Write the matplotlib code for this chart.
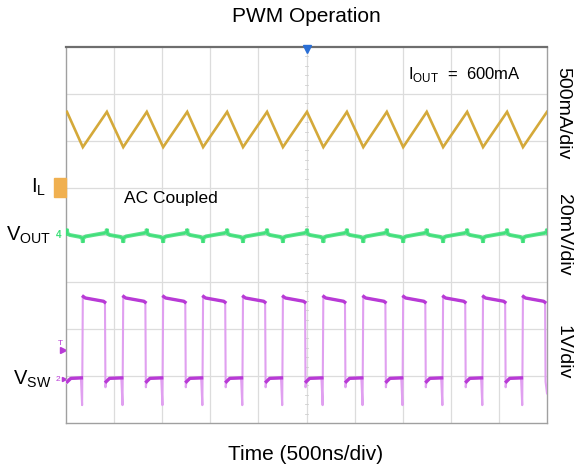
import matplotlib.pyplot as plt
import numpy as np

plt.rcParams['font.family'] = ['Liberation Sans', 'DejaVu Sans']

# screen is 10 x 8 divisions; time axis 500 ns/div
il_peak_t = [0.02, 0.85, 1.68, 2.52, 3.35, 4.18, 5.01, 5.84, 6.67, 7.50, 8.34, 9.17, 10.0]
il_trough_t = [0.35, 1.19, 2.02, 2.85, 3.68, 4.51, 5.35, 6.18, 7.01, 7.84, 8.67, 9.50]
il_peak_div = 6.62
il_trough_div = 5.87

vout_center_div = 4.0
vout_peak_div = 0.13
vout_dip_div = -0.16

sw_rise_t = [0.35, 1.19, 2.02, 2.85, 3.68, 4.51, 5.35, 6.18, 7.01, 7.84, 8.67, 9.50]
sw_fall_t = [0.81, 1.65, 2.48, 3.31, 4.14, 4.97, 5.80, 6.64, 7.47, 8.30, 9.13, 9.96]
sw_high_div = 2.66
sw_high_end_div = 2.57
sw_low_div = 0.93
sw_spike_div = 0.38

gold = '#d4a93a'
green = '#3ddf78'
violet = '#b83ad6'
violet_light = '#e0a0f0'

fig = plt.figure(figsize=(5.78, 4.74), dpi=100)
ax = fig.add_axes([66 / 578, 51 / 474, 481 / 578, 376 / 474])
ax.set_xlim(0, 10)
ax.set_ylim(0, 8)

# graticule
for gx in range(1, 10):
    ax.axvline(gx, color='#dcdcdc', lw=0.9, zorder=0)
for gy in range(1, 8):
    ax.axhline(gy, color='#dcdcdc', lw=0.9, zorder=0)
for s in np.arange(0.2, 8, 0.2):
    ax.plot([4.97, 5.03], [s, s], color='#d0d0d0', lw=0.6, zorder=0)
for name, sp in ax.spines.items():
    sp.set_color('#a0a0a0')
    sp.set_linewidth(1.0)
ax.spines['top'].set_color('#6e6e6e')
ax.spines['top'].set_linewidth(1.6)
ax.set_xticks([])
ax.set_yticks([])

# inductor current: triangle through the corner points
il_t = sorted(il_peak_t + il_trough_t)
il_v = [il_peak_div if t in il_peak_t else il_trough_div for t in il_t]
ax.plot(il_t, il_v, color=gold, lw=1.9, solid_joinstyle='miter', zorder=3)

# output ripple: thin cusp up at each peak, dip at each trough
vt, vv = [0.0], [vout_center_div + 0.03]
for pk, tr in zip(il_peak_t, il_trough_t + [None]):
    vt += [pk - 0.06, pk - 0.01, pk, pk + 0.01, pk + 0.06]
    vv += [vout_center_div + 0.04, vout_center_div + 0.06, vout_center_div + vout_peak_div,
           vout_center_div + 0.03, vout_center_div]
    if tr is not None:
        vt += [tr - 0.06, tr - 0.01, tr, tr + 0.01, tr + 0.06]
        vv += [vout_center_div - 0.04, vout_center_div - 0.07, vout_center_div + vout_dip_div,
               vout_center_div - 0.06, vout_center_div - 0.03]
ax.plot(vt, vv, color=green, lw=2.8, alpha=0.85, solid_joinstyle='bevel', zorder=3)
ax.plot(vt, vv, color=green, lw=1.0, zorder=3)

# switch node: edges thin and faint, flat parts heavier
st, sv = [0.0, 0.02, 0.05], [sw_low_div - 0.08, sw_low_div - 0.02, sw_low_div]
for r, f in zip(sw_rise_t, sw_fall_t):
    st += [r - 0.04, r - 0.015, r, r + 0.05, f - 0.03, f]
    sv += [sw_low_div + 0.03, sw_spike_div, sw_high_div + 0.03, sw_high_div,
           sw_high_end_div + 0.02, sw_high_end_div]
    if f < 9.95:
        st += [f + 0.01, f + 0.025, f + 0.1]
        sv += [sw_low_div - 0.17, sw_low_div - 0.05, sw_low_div + 0.02]
    else:
        st += [f + 0.01, 10.0]
        sv += [sw_low_div - 0.05, sw_low_div - 0.3]
ax.plot(st, sv, color=violet_light, lw=1.5, zorder=3)
for r, f in zip(sw_rise_t, sw_fall_t):
    ax.plot([r + 0.01, r + 0.05, f - 0.03, f - 0.005],
            [sw_high_div + 0.03, sw_high_div, sw_high_end_div + 0.02, sw_high_end_div],
            color=violet, lw=2.4, zorder=4)
lows = [(0.03, sw_rise_t[0] - 0.03)] + [(f + 0.025, r - 0.03) for f, r in zip(sw_fall_t, sw_rise_t[1:])]
for a, b in lows:
    ax.plot([a, a + 0.07, b], [sw_low_div - 0.05, sw_low_div + 0.02, sw_low_div + 0.03],
            color=violet, lw=2.4, zorder=4)

# trigger marker and channel ground markers
ax.plot([5.0], [7.96], marker='v', color='#2a6fd6', ms=6, clip_on=False, zorder=6)
ax.add_patch(plt.Rectangle((-0.25, 4.81), 0.24, 0.4, color='#f0b050', clip_on=False, zorder=5))
ax.text(-0.13, 5.01, '3', color='white', fontsize=6, ha='center', va='center', clip_on=False)
ax.text(-0.15, vout_center_div, '4', color=green, fontsize=7, ha='center', va='center', fontweight='bold')
ax.plot([-0.07], [1.55], marker='>', color=violet, ms=4, clip_on=False)
ax.text(-0.12, 1.7, 'T', color=violet, fontsize=6, ha='center', va='center')
ax.text(-0.16, sw_low_div, '2', color=violet, fontsize=6, ha='center', va='center')
ax.plot([-0.05], [sw_low_div], marker='>', color=violet, ms=3, clip_on=False)

# annotations
ax.text(7.1, 7.42, r'I$_\mathregular{OUT}$  =  600mA', fontsize=12, ha='left', va='center')
ax.text(1.2, 4.78, 'AC Coupled', fontsize=12.5, ha='left', va='center')
ax.text(-0.42, 5.02, r'I$_\mathregular{L}$', fontsize=14.5, ha='right', va='center')
ax.text(-0.3, vout_center_div, r'V$_\mathregular{OUT}$', fontsize=14.5, ha='right', va='center')
ax.text(-0.3, sw_low_div, r'V$_\mathregular{SW}$', fontsize=14.5, ha='right', va='center')

fig.text(563 / 578, 1 - 113 / 474, '500mA/div', rotation=270, fontsize=14, ha='center', va='center')
fig.text(563 / 578, 1 - 235 / 474, '20mV/div', rotation=270, fontsize=14, ha='center', va='center')
fig.text(563 / 578, 1 - 352 / 474, '1V/div', rotation=270, fontsize=14, ha='center', va='center')
fig.text(306 / 578, 1 - 16 / 474, 'PWM Operation', fontsize=15, ha='center', va='center')
fig.text(306 / 578, 1 - 455 / 474, 'Time (500ns/div)', fontsize=15, ha='center', va='center')

fig.savefig('out.png', dpi=100)
